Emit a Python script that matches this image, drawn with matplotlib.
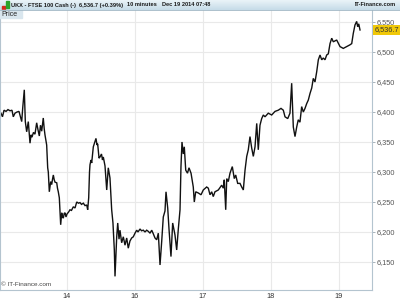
import matplotlib
matplotlib.use("Agg")
import matplotlib.pyplot as plt
from matplotlib.patches import Rectangle
from matplotlib.lines import Line2D
import matplotlib.transforms as mtransforms
import numpy as np

# time axis in days from the left edge (day gridlines fall on 1..5)
days = [
    0.029, 0.051, 0.074, 0.103, 0.132, 0.162, 0.191, 0.210, 0.235, 0.265,
    0.294, 0.334, 0.349, 0.372, 0.387, 0.407, 0.431, 0.456, 0.471, 0.485,
    0.507, 0.529, 0.554, 0.574, 0.593, 0.610, 0.628, 0.651, 0.665, 0.676,
    0.694, 0.701, 0.716, 0.725, 0.740, 0.760, 0.775, 0.787, 0.799, 0.812,
    0.824, 0.849, 0.860, 0.872, 0.887, 0.897, 0.907, 0.922, 0.934, 0.946,
    0.959, 0.971, 0.985, 1.000, 1.022, 1.044, 1.066, 1.093, 1.118, 1.143,
    1.169, 1.191, 1.213, 1.240, 1.265, 1.290, 1.304, 1.319, 1.331, 1.338,
    1.353, 1.363, 1.387, 1.404, 1.426, 1.441, 1.451, 1.471,
    1.485, 1.507, 1.522, 1.534, 1.559, 1.584, 1.607, 1.632, 1.657, 1.676,
    1.696, 1.706, 1.731, 1.746, 1.765, 1.779, 1.804, 1.828, 1.853, 1.878,
    1.901, 1.926, 1.951, 1.975, 2.000, 2.025, 2.044, 2.074, 2.096, 2.122,
    2.147, 2.172, 2.196, 2.221, 2.246, 2.269, 2.294, 2.319, 2.343, 2.368,
    2.393, 2.416, 2.441, 2.456, 2.481, 2.500, 2.529, 2.554, 2.588, 2.613,
    2.637, 2.662, 2.676, 2.691, 2.710, 2.725, 2.746, 2.772, 2.794, 2.824,
    2.857, 2.872, 2.893, 2.931, 2.971, 3.004,
    3.054, 3.078, 3.103, 3.128, 3.151, 3.176, 3.225, 3.275, 3.299, 3.313,
    3.334, 3.349, 3.372, 3.397, 3.431, 3.460, 3.481, 3.510, 3.544, 3.569,
    3.593, 3.618, 3.643, 3.666, 3.691, 3.716, 3.740, 3.765, 3.790, 3.813,
    3.838, 3.863, 3.887, 3.912, 3.960, 4.010, 4.059, 4.107, 4.147, 4.181,
    4.206, 4.246, 4.279, 4.304, 4.328, 4.353,
    4.378, 4.401, 4.426, 4.451, 4.475, 4.500, 4.525, 4.549, 4.574, 4.599,
    4.622, 4.647, 4.672, 4.696, 4.721, 4.746, 4.769, 4.794, 4.819, 4.843,
    4.868, 4.893, 4.916, 4.966, 5.015, 5.063, 5.113, 5.162, 5.187, 5.210,
    5.235, 5.260, 5.275, 5.290, 5.309,
]
price = [
    6398, 6392, 6403, 6401, 6404, 6402, 6403, 6392, 6398, 6400,
    6401, 6384, 6407, 6437, 6384, 6367, 6384, 6348, 6362, 6358,
    6366, 6363, 6382, 6370, 6360, 6378, 6368, 6390, 6372, 6362,
    6350, 6345, 6307, 6300, 6267, 6284, 6279, 6288, 6295, 6287,
    6283, 6282, 6273, 6267, 6257, 6234, 6212, 6232, 6225, 6223,
    6231, 6232, 6225, 6230, 6233, 6237, 6236, 6242, 6240, 6250,
    6248, 6249, 6246, 6248, 6244, 6245, 6237, 6257, 6300, 6312,
    6320, 6315, 6342, 6348, 6356, 6345, 6347, 6323,
    6325, 6330, 6320, 6325, 6310, 6270, 6307, 6290, 6237, 6215,
    6170, 6126, 6192, 6215, 6188, 6203, 6182, 6192, 6178, 6190,
    6173, 6185, 6190, 6192, 6198, 6203, 6200, 6205, 6202, 6203,
    6200, 6203, 6201, 6198, 6203, 6197, 6190, 6187, 6198, 6145,
    6185, 6225, 6235, 6267, 6240, 6205, 6159, 6215, 6195, 6170,
    6205, 6237, 6309, 6350, 6330, 6342, 6303, 6298, 6307, 6298,
    6275, 6250, 6267, 6265, 6262, 6270,
    6275, 6273, 6262, 6267, 6259, 6267, 6270, 6278, 6273, 6287,
    6237, 6289, 6284, 6298, 6309, 6289, 6295, 6281, 6281, 6275,
    6270, 6303, 6326, 6337, 6359, 6340, 6326, 6342, 6381, 6337,
    6378, 6389, 6395, 6392, 6398, 6395, 6401, 6403, 6406, 6403,
    6392, 6389, 6398, 6448, 6375, 6359,
    6375, 6387, 6383, 6409, 6400, 6406, 6414, 6420, 6431, 6440,
    6456, 6450, 6467, 6487, 6495, 6487, 6490, 6487, 6495, 6497,
    6514, 6523, 6517, 6520, 6509, 6506, 6509, 6512, 6514, 6531,
    6545, 6551, 6542, 6547, 6536.7,
]

day_ticks = [1, 2, 3, 4, 5]
day_labels = ["14", "16", "17", "18", "19"]
price_ticks = [6150, 6200, 6250, 6300, 6350, 6400, 6450, 6500, 6550]
last_price = 6536.7

header_name = "UKX - FTSE 100 Cash (-)"
header_quote = "6,536.7 (+0.39%)"
header_period = "10 minutes"
header_date = "Dec 19 2014 07:48"
brand = "IT-Finance.com"

plt.rcParams['font.family'] = ['Liberation Sans', 'DejaVu Sans']

W, H = 400, 300
fig = plt.figure(figsize=(4, 3), dpi=100)
fig.patch.set_facecolor('white')


def fx(x):
    return x / W


def fy(y):
    return 1 - y / H


# main price panel
ax = fig.add_axes([0, fy(290), fx(372), (290 - 10) / H])
ax.plot(days, price, color='#111111', lw=1.0, solid_joinstyle='miter')
ax.set_xlim(1 / 68, 373 / 68)
ax.set_ylim(6103.3, 6570)
ax.set_xticks(day_ticks)
ax.set_xticklabels(day_labels)
ax.set_yticks(price_ticks)
ax.set_yticklabels([f"{v:,}" for v in price_ticks])
ax.yaxis.tick_right()
ax.grid(color='#e9e9e9', lw=0.8)
ax.set_axisbelow(True)
ax.tick_params(axis='y', length=2, width=0.6, color='#9aa8b2', labelsize=5.3,
               labelcolor='#555555', pad=1)
ax.tick_params(axis='x', length=0, labelsize=5.3, labelcolor='#333333', pad=2.5)
for side in ax.spines.values():
    side.set_color('#b4c4cf')
    side.set_linewidth(0.8)
ax.spines['top'].set_visible(False)

# last price marker on the right scale
trans = mtransforms.blended_transform_factory(ax.transAxes, ax.transData)
ax.text(1.006, last_price, f"{last_price:,.1f}", transform=trans, fontsize=5.3,
        color='#333333', va='center', ha='left',
        bbox=dict(facecolor='#f0c808', edgecolor='none', pad=0.8))

ax.text(0.003, 0.012, "\u00a9 " + brand, transform=ax.transAxes, fontsize=4.6,
        color='#444444', va='bottom', ha='left')

# header strip
hax = fig.add_axes([0, fy(10), 1, 10 / H])
grad = np.linspace(0, 1, 20).reshape(-1, 1)
hax.imshow(grad, aspect='auto', cmap=matplotlib.colors.LinearSegmentedColormap.from_list(
    'hdr', ['#eaf3f8', '#c6dce8']), extent=[0, 1, 0, 1])
hax.set_axis_off()
fig.add_artist(Line2D([0, 1], [fy(10), fy(10)], color='#9fb6c4', lw=0.6,
                      transform=fig.transFigure))

# little candle icon
fig.add_artist(Rectangle((fx(2), fy(9.5)), fx(3), 4 / H, color='#d42a1e',
                         transform=fig.transFigure))
fig.add_artist(Rectangle((fx(5.5), fy(8)), fx(3), 6.5 / H, color='#2aa42a',
                         transform=fig.transFigure))

hdr = dict(fontsize=4.1, fontweight='bold', color='#1a1a1a', va='center')
fig.text(fx(11), fy(5), header_name, ha='left', **hdr)
fig.text(fx(79), fy(5), header_quote, ha='left', **hdr)
fig.text(fx(127), fy(5), header_period, ha='left', **hdr)
fig.text(fx(162), fy(5), header_date, ha='left', **hdr)
fig.text(fx(396), fy(5), brand, ha='right', **hdr)

# "Price" pane caption
fig.add_artist(Rectangle((0, fy(18)), fx(22), 8 / H, color='#d9e6ee',
                         transform=fig.transFigure))
fig.text(fx(1), fy(14.2), "Price", fontsize=5, color='#222222', va='center', ha='left')

fig.savefig("out.png", dpi=100)
